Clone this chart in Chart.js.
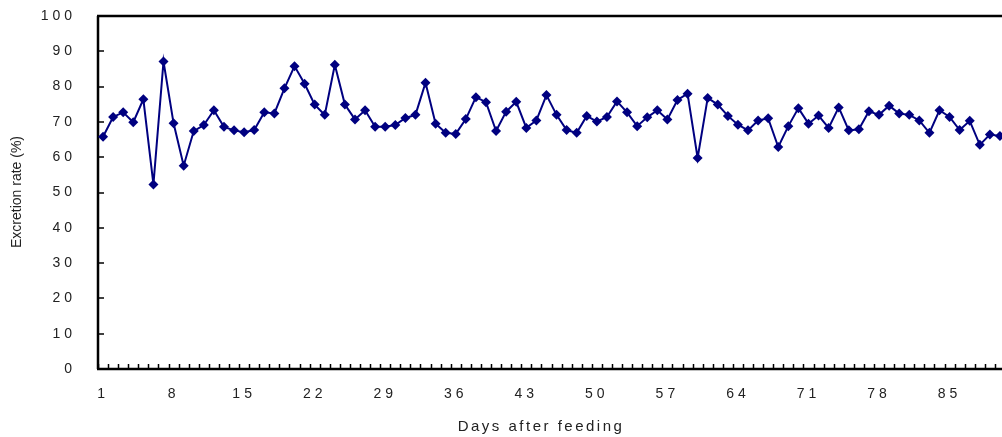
<!DOCTYPE html>
<html>
<head>
<meta charset="utf-8">
<script src="https://cdn.jsdelivr.net/npm/chart.js@4/dist/chart.umd.min.js"></script>
<style>
html,body{margin:0;padding:0;background:#fff;overflow:hidden;width:1002px;height:437px;}
canvas{display:block;}
</style>
</head>
<body>
<canvas id="c" width="1010" height="437"></canvas>
<script>
const days = [1,2,3,4,5,6,7,8,9,10,11,12,13,14,15,16,17,18,19,20,21,22,23,24,25,26,27,28,29,30,
  31,32,33,34,35,36,37,38,39,40,41,42,43,44,45,46,47,48,49,50,51,52,53,54,55,56,57,58,59,60,
  61,62,63,64,65,66,67,68,69,70,71,72,73,74,75,76,77,78,79,80,81,82,83,84,85,86,87,88,89,90];
const excretionRate = [65.8,71.4,72.7,69.9,76.4,52.3,87.1,69.6,57.6,67.4,
  69.1,73.3,68.6,67.6,67.1,67.7,72.7,72.4,79.5,85.8,
  80.8,74.9,72.0,86.2,74.9,70.7,73.3,68.6,68.6,69.1,
  71.1,72.0,81.1,69.5,66.9,66.6,70.8,77.0,75.6,67.4,
  72.9,75.7,68.3,70.4,77.6,72.0,67.7,66.9,71.7,70.1,
  71.4,75.8,72.7,68.8,71.3,73.3,70.7,76.2,78.0,59.8,
  76.8,74.9,71.7,69.2,67.6,70.4,71.0,62.9,68.8,73.9,
  69.5,71.8,68.3,74.1,67.6,67.9,73.0,72.0,74.6,72.4,
  72.0,70.4,66.9,73.3,71.4,67.7,70.3,63.5,66.4,66.0];
const xTickLabels = ['1','8','15','22','29','36','43','50','57','64','71','78','85'];
const yTickValues = [0,10,20,30,40,50,60,70,80,90,100];
const xTitle = 'Days after feeding';
const yTitle = 'Excretion rate (%)';

const FONT = 'Arial, "Liberation Sans", sans-serif';

const framePlugin = {
  id: 'frame',
  beforeDraw(chart) {
    chart.ctx.letterSpacing = '4px';
  },
  beforeDatasetsDraw(chart) {
    chart.ctx.letterSpacing = '0px';
    const {ctx, chartArea: a, scales} = chart;
    ctx.save();
    ctx.strokeStyle = '#000';
    ctx.lineWidth = 1.5;
    const ys = scales.y;
    yTickValues.forEach(v => {
      const y = Math.round(ys.getPixelForValue(v));
      ctx.beginPath(); ctx.moveTo(a.left, y); ctx.lineTo(a.left + 6, y); ctx.stroke();
    });
    const xs = scales.x;
    const w = xs.getPixelForValue(1) - xs.getPixelForValue(0);
    for (let i = 0; i <= days.length; i++) {
      const x = Math.round(xs.getPixelForValue(0) - w / 2 + i * w) + 0.5;
      ctx.beginPath(); ctx.moveTo(x, a.bottom); ctx.lineTo(x, a.bottom - 5); ctx.stroke();
    }
    ctx.lineWidth = 2.5;
    ctx.beginPath();
    ctx.moveTo(a.left - 1, a.top); ctx.lineTo(a.right + 2, a.top);
    ctx.moveTo(a.left, a.top); ctx.lineTo(a.left, a.bottom);
    ctx.moveTo(a.left - 1, a.bottom); ctx.lineTo(a.right + 2, a.bottom);
    ctx.stroke();
    ctx.restore();
  },
  afterDraw(chart) {
    const {ctx} = chart;
    ctx.save();
    ctx.fillStyle = '#222';
    ctx.letterSpacing = '2.5px';
    ctx.font = '15px ' + FONT;
    ctx.textAlign = 'center';
    ctx.textBaseline = 'middle';
    ctx.fillText(xTitle, 541, 427);
    ctx.letterSpacing = '0px';
    ctx.font = '14px ' + FONT;
    ctx.translate(17, 192);
    ctx.rotate(-Math.PI / 2);
    ctx.fillText(yTitle, 0, 0);
    ctx.restore();
  }
};

new Chart(document.getElementById('c'), {
  type: 'line',
  data: {
    labels: days,
    datasets: [{
      data: excretionRate,
      borderColor: '#000080',
      backgroundColor: '#000080',
      borderWidth: 2,
      pointStyle: 'rectRot',
      pointRadius: 5,
      pointBorderWidth: 0,
      tension: 0,
      clip: false
    }]
  },
  options: {
    responsive: false,
    animation: false,
    devicePixelRatio: 1,
    layout: { padding: { top: 16, right: 0, left: 0, bottom: 0 } },
    plugins: { legend: { display: false }, tooltip: { enabled: false } },
    scales: {
      x: {
        type: 'category',
        offset: true,
        grid: { display: false, offset: true },
        border: { display: false },
        ticks: {
          autoSkip: false,
          maxRotation: 0,
          padding: 9,
          color: '#222',
          font: { family: FONT, size: 14 },
          callback: function(val, idx) {
            const lbl = String(days[idx]);
            return xTickLabels.includes(lbl) ? lbl : '';
          }
        },
        afterFit(s) { s.height = 68; s.paddingLeft = 0; s.paddingRight = 0; }
      },
      y: {
        min: 0, max: 100,
        grid: { display: false },
        border: { display: false },
        afterBuildTicks(s) { s.ticks = yTickValues.map(v => ({ value: v })); },
        ticks: {
          padding: 14,
          color: '#222',
          font: { family: FONT, size: 14 }
        },
        afterFit(s) { s.width = 98; s.paddingTop = 0; s.paddingBottom = 0; }
      }
    }
  },
  plugins: [framePlugin]
});
</script>
</body>
</html>
